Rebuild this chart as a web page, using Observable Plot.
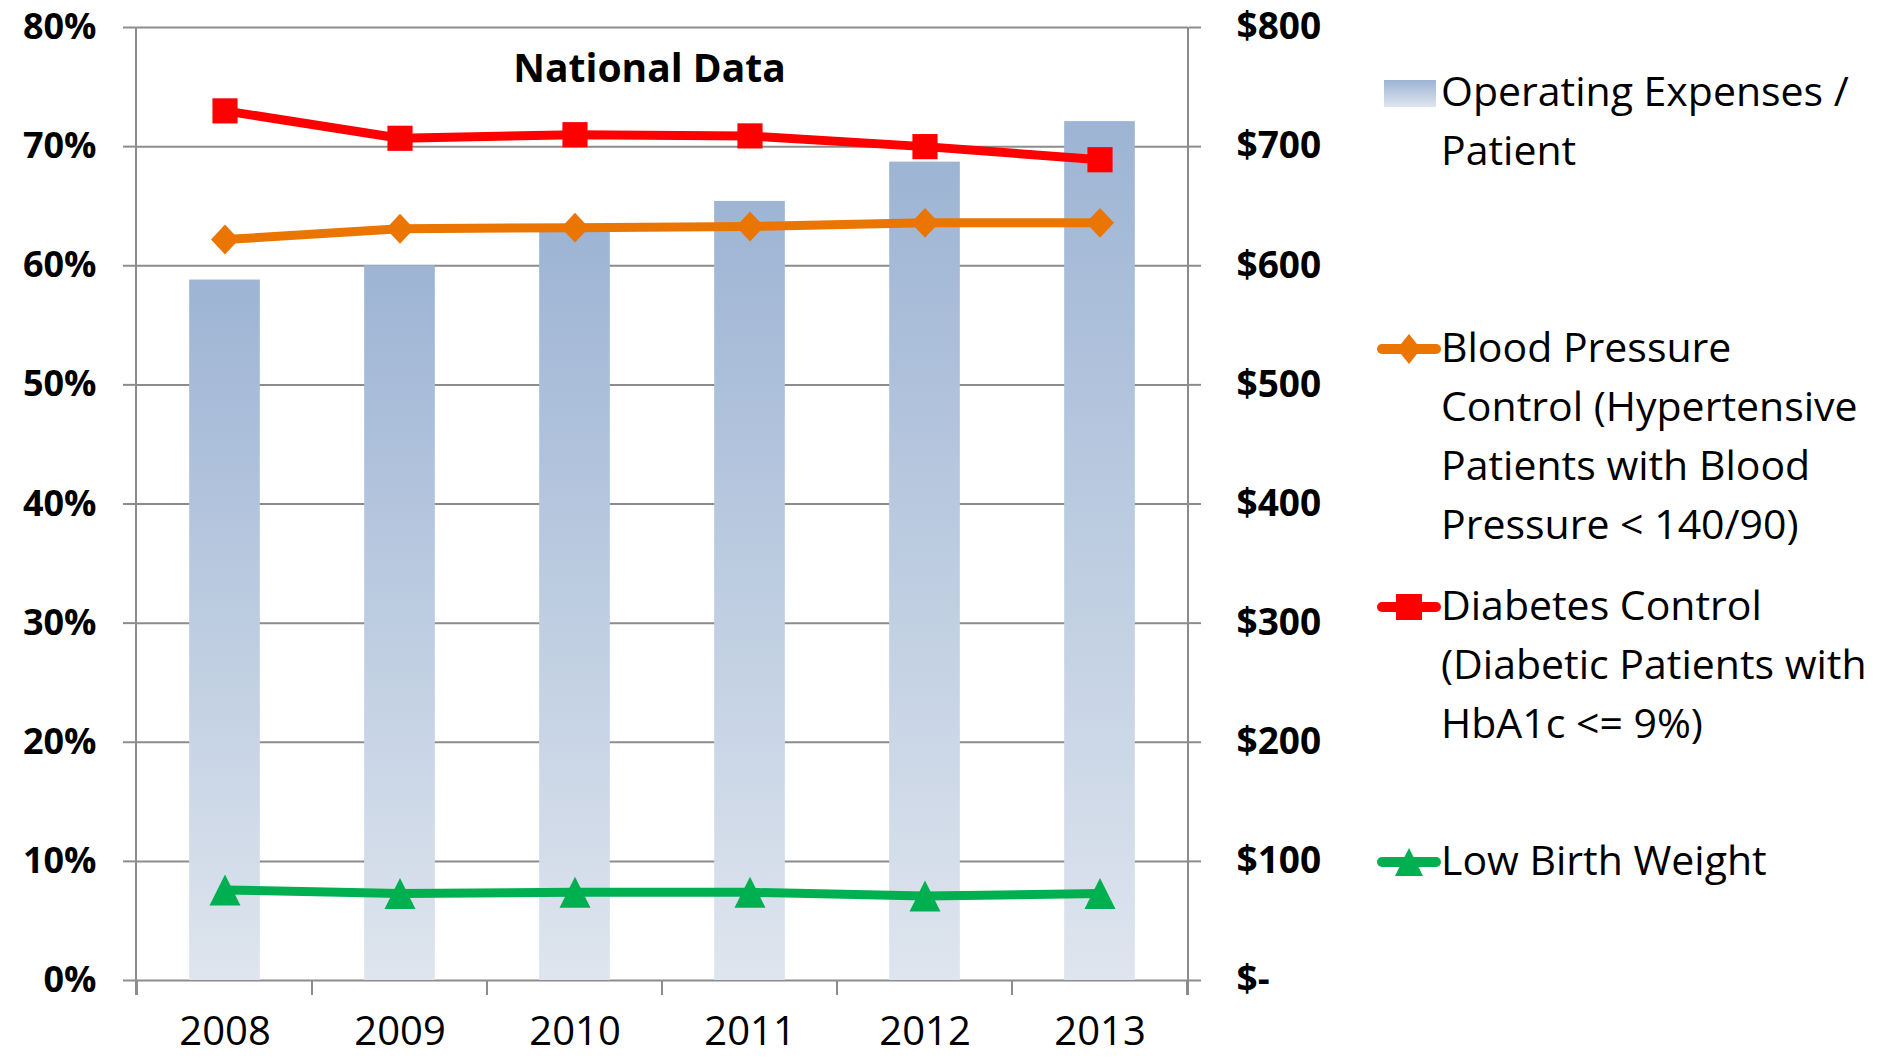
<!DOCTYPE html>
<html>
<head>
<meta charset="utf-8">
<script src="https://cdn.jsdelivr.net/npm/d3@7"></script>
<script src="https://cdn.jsdelivr.net/npm/@observablehq/plot@0.6"></script>
<style>
  html, body { margin: 0; padding: 0; background: #fff; }
  #wrap { position: relative; width: 1895px; height: 1059px; overflow: hidden; font-family: "Open Sans", sans-serif; }
  #chart svg { display: block; }
  .leg { position: absolute; left: 1441px; font-size: 41px; line-height: 59px; white-space: nowrap; color: #000; }
  .sw { position: absolute; display: block; }
</style>
</head>
<body>
<div id="wrap"><div id="chart"></div><div id="legend"></div></div>
<script>
// ---- data ----
const years = ["2008", "2009", "2010", "2011", "2012", "2013"];
const operatingExpenses = [588, 600, 628, 654, 687, 721];        // $ per patient (right axis)
const bloodPressure = [62.2, 63.1, 63.2, 63.3, 63.6, 63.6];     // % (left axis)
const diabetes = [73.0, 70.7, 71.0, 70.9, 70.0, 68.9];          // %
const lowBirthWeight = [7.6, 7.3, 7.4, 7.4, 7.1, 7.3];          // %
const pctTicks = [0, 10, 20, 30, 40, 50, 60, 70, 80];
const pctTickLabels = ["0%", "10%", "20%", "30%", "40%", "50%", "60%", "70%", "80%"];
const dollarTickLabels = ["$-", "$100", "$200", "$300", "$400", "$500", "$600", "$700", "$800"];
const chartTitle = "National Data";
const legendLabels = [
  ["Operating Expenses /", "Patient"],
  ["Blood Pressure", "Control (Hypertensive", "Patients with Blood", "Pressure < 140/90)"],
  ["Diabetes Control", "(Diabetic Patients with", "HbA1c <= 9%)"],
  ["Low Birth Weight"]
];
const colors = { bar0: "#9db4d4", bar1: "#dee5ee", bp: "#ea7500", dm: "#ff0000", lbw: "#00b050", grid: "#8c8c8c" };

const rows = years.map((y, i) => ({
  year: y, expense: operatingExpenses[i], bp: bloodPressure[i], dm: diabetes[i], lbw: lowBirthWeight[i]
}));

const NS = "http://www.w3.org/2000/svg";
function el(tag, attrs) {
  const e = document.createElementNS(NS, tag);
  for (const k in attrs) e.setAttribute(k, attrs[k]);
  return e;
}

// gradient definition used by the bars (per-bar bounding box)
const defsMark = () => {
  const defs = el("defs", {});
  const lg = el("linearGradient", { id: "barGrad", x1: 0, y1: 0, x2: 0, y2: 1 });
  lg.appendChild(el("stop", { offset: "0", "stop-color": colors.bar0 }));
  lg.appendChild(el("stop", { offset: "1", "stop-color": colors.bar1 }));
  defs.appendChild(lg);
  return defs;
};

// vertical axis lines and category boundary ticks
const frameMark = (index, scales, values, dims) => {
  const { width, height, marginLeft, marginRight, marginTop, marginBottom } = dims;
  const g = el("g", { stroke: colors.grid, "stroke-width": 2 });
  const x = scales.x;
  const bw = (x && typeof x.bandwidth === "function") ? x.bandwidth() : (width - marginLeft - marginRight) / years.length;
  const y0 = height - marginBottom;
  const xs = years.map(y => x(y));
  xs.push(x(years[years.length - 1]) + bw);
  for (const xx of xs) g.appendChild(el("line", { x1: xx, x2: xx, y1: y0, y2: y0 + 15 }));
  g.appendChild(el("line", { x1: marginLeft, x2: marginLeft, y1: marginTop, y2: y0 + 15 }));
  g.appendChild(el("line", { x1: width - marginRight, x2: width - marginRight, y1: marginTop, y2: y0 + 15 }));
  return g;
};

const diamondSym = { draw(ctx, size) { const r = Math.sqrt(size / Math.PI); ctx.moveTo(0, -r * 1.07); ctx.lineTo(r, 0); ctx.lineTo(0, r * 1.07); ctx.lineTo(-r, 0); ctx.closePath(); } };
const triangleSym = { draw(ctx, size) { const r = Math.sqrt(size / Math.PI); ctx.moveTo(0, -r); ctx.lineTo(r, r); ctx.lineTo(-r, r); ctx.closePath(); } };

const W = 1895, H = 1059;
const mL = 136, mR = 707, mT = 27, mB = 79;
const bandW = (W - mL - mR) / years.length;
const barInset = (bandW - 71) / 2;

const chart = Plot.plot({
  width: W, height: H,
  marginLeft: mL, marginRight: mR, marginTop: mT, marginBottom: mB,
  style: { fontFamily: "Open Sans", background: "white", overflow: "visible" },
  x: { type: "band", domain: years, padding: 0, axis: null, label: null },
  y: { domain: [0, 80], axis: null, label: null },
  marks: [
    defsMark,
    Plot.gridY(pctTicks, { stroke: colors.grid, strokeOpacity: 1, strokeWidth: 2 }),
    Plot.barY(rows, { x: "year", y: d => d.expense / 10, fill: "url(#barGrad)", insetLeft: barInset, insetRight: barInset }),
    frameMark,
    Plot.axisY(pctTicks, {
      anchor: "left", tickSize: 13, tickPadding: 27, stroke: colors.grid, strokeWidth: 2, label: null,
      tickFormat: d => pctTickLabels[pctTicks.indexOf(d)], fontSize: 36, fontWeight: "bold", fill: "black"
    }),
    Plot.axisY(pctTicks, {
      anchor: "right", tickSize: 12, tickPadding: 36, stroke: colors.grid, strokeWidth: 2, label: null,
      tickFormat: d => dollarTickLabels[pctTicks.indexOf(d)], fontSize: 37, fontWeight: "bold", fill: "black", textAnchor: "start"
    }),
    Plot.axisX(years, { anchor: "bottom", tickSize: 0, tickPadding: 36, fontSize: 40, fill: "black", label: null }),
    Plot.text([chartTitle], { frameAnchor: "top", lineAnchor: "middle", dy: 42, dx: -13, fontSize: 39, fontWeight: "bold", fill: "black" }),
    Plot.line(rows, { x: "year", y: "bp", stroke: colors.bp, strokeWidth: 9, strokeLinejoin: "round" }),
    Plot.line(rows, { x: "year", y: "dm", stroke: colors.dm, strokeWidth: 9, strokeLinejoin: "round" }),
    Plot.line(rows, { x: "year", y: "lbw", stroke: colors.lbw, strokeWidth: 9, strokeLinejoin: "round" }),
    Plot.dot(rows, { x: "year", y: "bp", symbol: diamondSym, r: 14, fill: colors.bp, stroke: "none" }),
    Plot.dot(rows, { x: "year", y: "dm", symbol: "square", r: 14.2, fill: colors.dm, stroke: "none" }),
    Plot.dot(rows, { x: "year", y: "lbw", symbol: triangleSym, r: 15.5, fill: colors.lbw, stroke: "none" })
  ]
});
document.getElementById("chart").appendChild(chart);

// ---- legend (HTML, to the right of the plot) ----
const legend = document.getElementById("legend");
const fs = 41;
const baseOff = (59 - 1.362 * fs) / 2 + 1.069 * fs;   // first baseline offset within block
const firstBaselines = [106.6, 362.6, 620, 875];
const legendKinds = ["bar", "bp", "dm", "lbw"];
legendLabels.forEach((lines, i) => {
  const top = firstBaselines[i] - baseOff;
  const d = document.createElement("div");
  d.className = "leg";
  d.style.top = top + "px";
  lines.forEach((t, j) => { if (j) d.appendChild(document.createElement("br")); d.appendChild(document.createTextNode(t)); });
  legend.appendChild(d);
  const kind = legendKinds[i];
  const cy = firstBaselines[i] - 13.5; // middle of first text line
  if (kind === "bar") {
    const s = document.createElement("div");
    s.className = "sw";
    Object.assign(s.style, { left: "1384px", top: (cy - 13) + "px", width: "52px", height: "27px",
      background: `linear-gradient(${colors.bar0}, ${colors.bar1})` });
    legend.appendChild(s);
  } else {
    const svg = el("svg", { width: 66, height: 40 });
    svg.setAttribute("class", "sw");
    svg.style.left = "1376px"; svg.style.top = (cy - 20) + "px";
    const c = colors[kind];
    svg.appendChild(el("line", { x1: 6, x2: 60, y1: 20, y2: 20, stroke: c, "stroke-width": 10, "stroke-linecap": "round" }));
    let p;
    if (kind === "bp") p = "M33,5 L45,20 L33,35 L21,20 Z";
    else if (kind === "dm") p = "M20,7 L46,7 L46,33 L20,33 Z";
    else p = "M33,6 L47,34 L19,34 Z";
    svg.appendChild(el("path", { d: p, fill: c }));
    legend.appendChild(svg);
  }
});
</script>
</body>
</html>
